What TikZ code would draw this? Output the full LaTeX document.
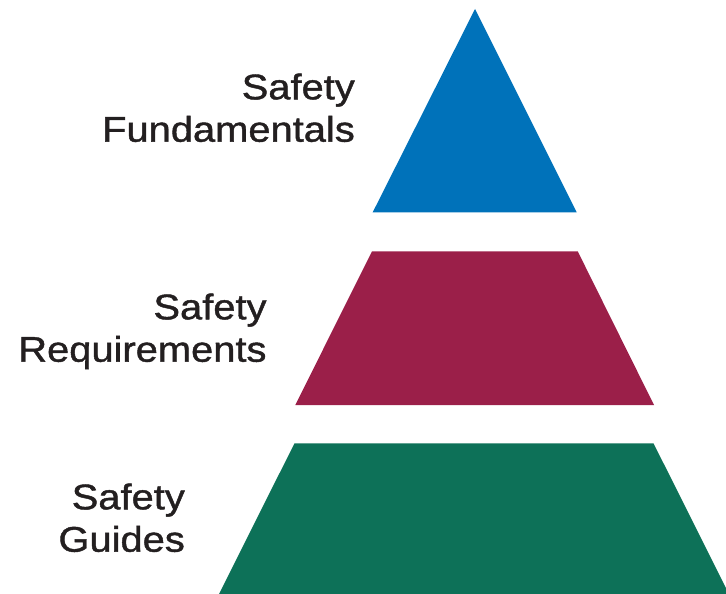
\documentclass[tikz,border=0pt]{standalone}
\usepackage{fontspec}
\setmainfont{Liberation Sans}[FakeStretch=1.12,FakeBold=1.2]
\definecolor{tierblue}{RGB}{0,114,186}
\definecolor{tiermaroon}{RGB}{155,31,73}
\definecolor{tiergreen}{RGB}{13,113,88}
\definecolor{labelink}{RGB}{35,31,32}
\tikzset{
  tierlabel/.style={anchor=base east, inner sep=0pt, text=labelink, font=\fontsize{35.6}{43}\selectfont},
}
\begin{document}
\begin{tikzpicture}[x=1pt,y=-1pt]
\useasboundingbox (0,0) rectangle (726,594);
% tiers
\fill[tierblue] (475,9) -- (576.7,212.3) -- (372.7,212.3) -- cycle;
\fill[tiermaroon] (372,251.3) -- (577.7,251.3) -- (654,405) -- (295.3,405) -- cycle;
\fill[tiergreen] (294.5,443.3) -- (653.5,443.3) -- (729,594) -- (219,594) -- cycle;
% labels
\node[tierlabel] (fundA) at (355,99.3) {Safety};
\node[tierlabel] (fundB) at (355,141.7) {Fundamentals};
\node[tierlabel] (reqA) at (266.7,319.3) {Safety};
\node[tierlabel] (reqB) at (266.7,361.7) {Requirements};
\node[tierlabel] (guiA) at (185,509.3) {Safety};
\node[tierlabel] (guiB) at (185,551.7) {Guides};
\end{tikzpicture}
\end{document}
